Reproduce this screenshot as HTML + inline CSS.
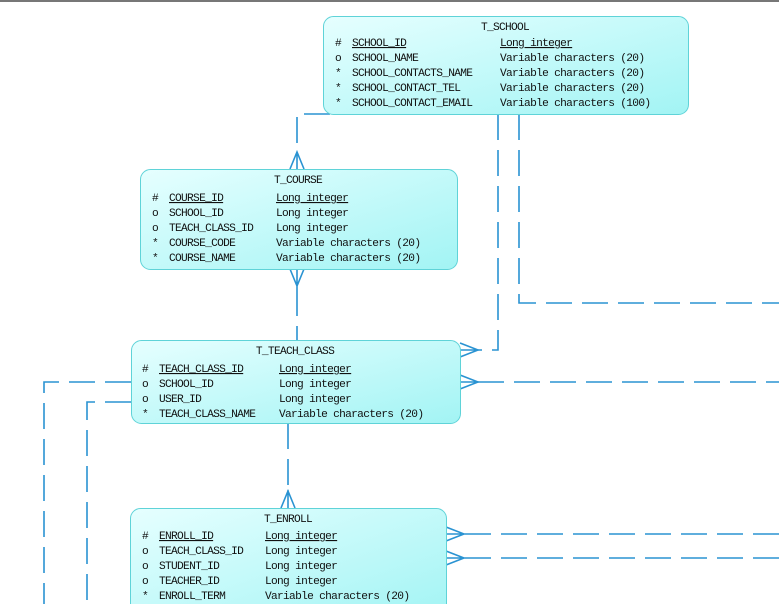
<!DOCTYPE html>
<html><head><meta charset="utf-8"><style>
html,body{margin:0;padding:0;background:#fff;}
svg{display:block}
text{font-family:"Liberation Mono","Noto Sans CJK SC",monospace;font-size:11.2px;letter-spacing:-0.7px;fill:#111;}
</style></head><body>
<svg width="779" height="604" viewBox="0 0 779 604" xmlns="http://www.w3.org/2000/svg">
<defs>
<linearGradient id="g" x1="0" y1="0" x2="1" y2="1">
<stop offset="0" stop-color="#e6ffff"/><stop offset="1" stop-color="#a2f4f4"/>
</linearGradient>
</defs>
<line x1="0" y1="1" x2="779" y2="1" stroke="#777" stroke-width="2"/>
<g fill="none" stroke="#2a93d2" stroke-width="1.6" stroke-dasharray="26,10">
<path d="M330 114 H297 V152"/>
<path d="M297 290 V340" />
<path d="M498 114 V350 H478"/>
<path d="M519 114 V303 H779"/>
<path d="M478 382 H779"/>
<path d="M131 382 H44 V604"/>
<path d="M131 402 H87 V604"/>
<path d="M288 423 V490"/>
<path d="M465 534 H779"/>
<path d="M465 558 H779"/>
</g>
<g fill="none" stroke="#2a93d2" stroke-width="1.6">
<path d="M297 152 V169 M290 169 L297 152 L304 169"/>
<path d="M297 269 V290 M290 269 L297 286 L304 269"/>
<path d="M478 350 H460 M460 343 L478 350 L460 357"/>
<path d="M478 382 H460 M460 375 L478 382 L460 389"/>
<path d="M288 490 V508 M281 508 L288 491 L295 508"/>
<path d="M465 534 H446 M446 527 L464 534 L446 541"/>
<path d="M465 558 H446 M446 551 L464 558 L446 565"/>
</g>
<g fill="url(#g)" stroke="#5fd3d8" stroke-width="1">
<rect x="323.5" y="16.5" width="365" height="98" rx="10"/>
<rect x="140.5" y="169.5" width="317" height="100" rx="10"/>
<rect x="131.5" y="340.5" width="329" height="83" rx="10"/>
<rect x="130.5" y="508.5" width="316" height="110" rx="10"/>
</g>
<!-- T_SCHOOL -->
<text x="505" y="30" text-anchor="middle">T_SCHOOL</text>
<text x="335" y="46">#</text><text x="352" y="46" text-decoration="underline">SCHOOL_ID</text><text x="500" y="46" text-decoration="underline">Long integer</text>
<text x="335" y="61">o</text><text x="352" y="61">SCHOOL_NAME</text><text x="500" y="61">Variable characters (20)</text>
<text x="335" y="76">*</text><text x="352" y="76">SCHOOL_CONTACTS_NAME</text><text x="500" y="76">Variable characters (20)</text>
<text x="335" y="91">*</text><text x="352" y="91">SCHOOL_CONTACT_TEL</text><text x="500" y="91">Variable characters (20)</text>
<text x="335" y="106">*</text><text x="352" y="106">SCHOOL_CONTACT_EMAIL</text><text x="500" y="106">Variable characters (100)</text>
<!-- T_COURSE -->
<text x="298" y="183" text-anchor="middle">T_COURSE</text>
<text x="152" y="201">#</text><text x="169" y="201" text-decoration="underline">COURSE_ID</text><text x="276" y="201" text-decoration="underline">Long integer</text>
<text x="152" y="216">o</text><text x="169" y="216">SCHOOL_ID</text><text x="276" y="216">Long integer</text>
<text x="152" y="231">o</text><text x="169" y="231">TEACH_CLASS_ID</text><text x="276" y="231">Long integer</text>
<text x="152" y="246">*</text><text x="169" y="246">COURSE_CODE</text><text x="276" y="246">Variable characters (20)</text>
<text x="152" y="261">*</text><text x="169" y="261">COURSE_NAME</text><text x="276" y="261">Variable characters (20)</text>
<!-- T_TEACH_CLASS -->
<text x="295" y="354" text-anchor="middle">T_TEACH_CLASS</text>
<text x="142" y="372">#</text><text x="159" y="372" text-decoration="underline">TEACH_CLASS_ID</text><text x="279" y="372" text-decoration="underline">Long integer</text>
<text x="142" y="387">o</text><text x="159" y="387">SCHOOL_ID</text><text x="279" y="387">Long integer</text>
<text x="142" y="402">o</text><text x="159" y="402">USER_ID</text><text x="279" y="402">Long integer</text>
<text x="142" y="417">*</text><text x="159" y="417">TEACH_CLASS_NAME</text><text x="279" y="417">Variable characters (20)</text>
<!-- T_ENROLL -->
<text x="288" y="522" text-anchor="middle">T_ENROLL</text>
<text x="142" y="539">#</text><text x="159" y="539" text-decoration="underline">ENROLL_ID</text><text x="265" y="539" text-decoration="underline">Long integer</text>
<text x="142" y="554">o</text><text x="159" y="554">TEACH_CLASS_ID</text><text x="265" y="554">Long integer</text>
<text x="142" y="569">o</text><text x="159" y="569">STUDENT_ID</text><text x="265" y="569">Long integer</text>
<text x="142" y="584">o</text><text x="159" y="584">TEACHER_ID</text><text x="265" y="584">Long integer</text>
<text x="142" y="599">*</text><text x="159" y="599">ENROLL_TERM</text><text x="265" y="599">Variable characters (20)</text>
</svg>
</body></html>
